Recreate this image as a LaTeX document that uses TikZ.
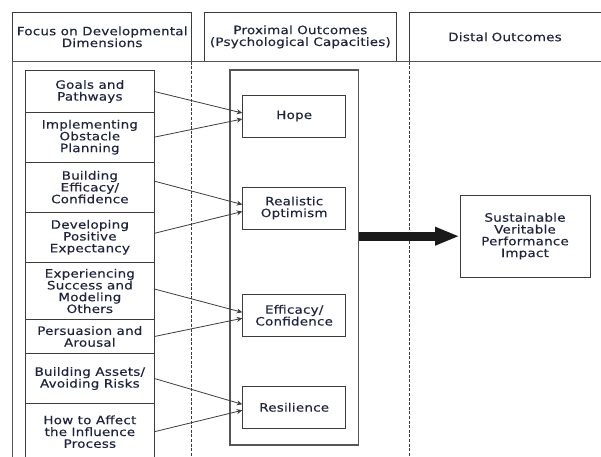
\documentclass[tikz,border=0pt]{standalone}
\usepackage{fontspec}
\setmainfont{DejaVu Sans}[FakeStretch=1.17, LetterSpace=2, FakeBold=0.35]
\usetikzlibrary{arrows.meta}
\definecolor{txt}{HTML}{1E2440}
\definecolor{ln}{HTML}{3C3C3C}
\definecolor{frm}{HTML}{555555}
\definecolor{arr}{HTML}{1A1A1A}
\begin{document}
\begin{tikzpicture}[x=1pt,y=-1pt,
  box/.style={draw=ln, line width=0.9pt, inner sep=0pt, align=center,
    font=\fontsize{11.5}{11.8}\selectfont, text=txt},
  leftbox/.style={box, minimum width=128.3pt},
  capbox/.style={box, minimum width=103pt, minimum height=42pt},
  headbox/.style={box, minimum height=49.7pt},
  conn/.style={draw=ln, line width=0.8pt, -{Stealth[length=5.5pt,width=5pt]}},
  divider/.style={draw=ln, line width=0.8pt, dash pattern=on 3pt off 1.6pt}]
\useasboundingbox (0,0) rectangle (601,456);
\clip (0,0) rectangle (601,456);

% header
\node[headbox, minimum width=179pt] (h1) at (102.2,36.85) {Focus on Developmental\\Dimensions};
\node[headbox, minimum width=192.7pt] (h2) at (300.35,36.85) {Proximal Outcomes\\(Psychological Capacities)};
\node[headbox, minimum width=192pt, text width=180pt] (h3) at (505,36.85) {Distal Outcomes};

% frame lines
\coordinate (fl) at (12.7,61.7);
\coordinate (fr) at (602,61.7);
\coordinate (fb) at (12.7,460);
\draw[frm, line width=1pt] (fr) -- (fl) -- (fb);
\coordinate (d1t) at (191.7,61.7);
\coordinate (d1b) at (191.7,460);
\coordinate (d2t) at (409,61.7);
\coordinate (d2b) at (409,460);
\draw[divider] (d1t) -- (d1b);
\draw[divider] (d2t) -- (d2b);

% left column
\node[leftbox, minimum height=41.6pt] (goals) at (89.85,91.5) {Goals and\\Pathways};
\node[leftbox, minimum height=49.7pt] (impl) at (89.85,137.15) {Implementing\\Obstacle\\Planning};
\node[leftbox, minimum height=50.3pt] (build) at (89.85,187.15) {Building\\Efficacy/\\Confidence};
\node[leftbox, minimum height=50pt] (devel) at (89.85,237.3) {Developing\\Positive\\Expectancy};
\node[leftbox, minimum height=57.4pt] (exper) at (89.85,291) {Experiencing\\Success and\\Modeling\\Others};
\node[leftbox, minimum height=33.6pt] (pers) at (89.85,336.5) {Persuasion and\\Arousal};
\node[leftbox, minimum height=50.4pt] (assets) at (89.85,378.5) {Building Assets/\\Avoiding Risks};
\node[leftbox, minimum height=56pt] (affect) at (89.85,431.7) {How to Affect\\the Influence\\Process};

% proximal
\node[draw=frm, line width=1.2pt, minimum width=128.3pt, minimum height=375pt, inner sep=0pt] (prox) at (294.15,257.5) {};
\node[capbox] (hope) at (294.2,116) {Hope};
\node[capbox] (optim) at (294.2,208) {Realistic\\Optimism};
\node[capbox] (effic) at (294.2,315.3) {Efficacy/\\Confidence};
\node[capbox] (resil) at (294.2,407.3) {Resilience};

% distal
\node[box, minimum width=130pt, minimum height=82.5pt] (dist) at (525,236.2) {Sustainable\\Veritable\\Performance\\Impact};

% connectors
\draw[conn] (goals.east) -- ([yshift=3pt]hope.west);
\draw[conn] (impl.east) -- ([yshift=-3pt]hope.west);
\draw[conn] ([yshift=6pt]build.east) -- ([yshift=3.5pt]optim.west);
\draw[conn] ([yshift=4pt]devel.east) -- ([yshift=-3.5pt]optim.west);
\draw[conn] ([yshift=2pt]exper.east) -- ([yshift=3pt]effic.west);
\draw[conn] (pers.east) -- ([yshift=-3pt]effic.west);
\draw[conn] (assets.east) -- ([yshift=3pt]resil.west);
\draw[conn] (affect.east) -- ([yshift=-3pt]resil.west);

\draw[arr, line width=9pt, -{Triangle[length=24.5pt,width=17pt]}] (prox.east |- dist.west) -- (dist.west);
\end{tikzpicture}
\end{document}
